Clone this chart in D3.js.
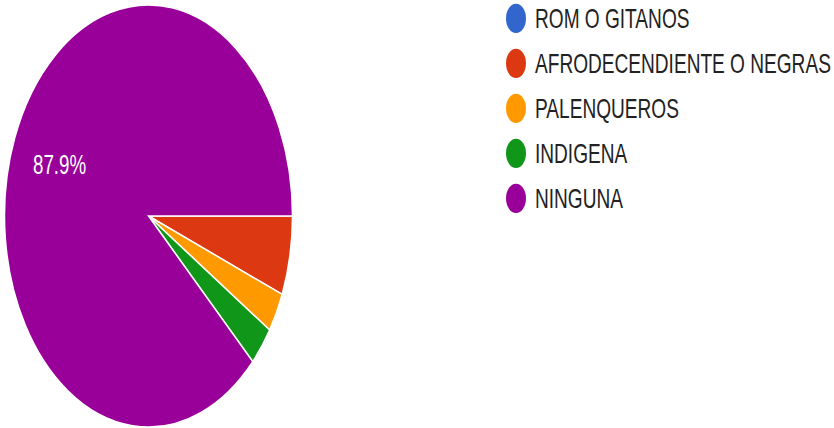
<!DOCTYPE html>
<html>
<head>
<meta charset="utf-8">
<script src="https://cdn.jsdelivr.net/npm/d3@7"></script>
<style>
  body { margin: 0; background: #fff; }
  text { font-family: "Liberation Sans", Arial, sans-serif; }
</style>
</head>
<body>
<div id="chart"></div>
<script>
// data: answers counted per group
var categories = ["ROM O GITANOS", "AFRODECENDIENTE O NEGRAS", "PALENQUEROS", "INDIGENA", "NINGUNA"];
var counts = [0, 4, 2, 2, 58];
var colors = ["#3366cc", "#dc3912", "#ff9900", "#109618", "#990099"];

var width = 834;
var height = 428;
var sy = 1.465; // picture is stretched vertically

var svg = d3.select("#chart").append("svg")
    .attr("width", width).attr("height", height);

var g = svg.append("g").attr("transform", "scale(1," + sy + ")");

var cx = 148.5, cy = 216 / sy, r = 144;
var total = d3.sum(counts);

var pie = d3.pie().sort(null)
    .startAngle(Math.PI / 2).endAngle(Math.PI / 2 + 2 * Math.PI);
var arcs = pie(counts);

var arc = d3.arc().innerRadius(0).outerRadius(r);
var labelArc = d3.arc().innerRadius(r * 0.665).outerRadius(r * 0.665);

var slices = g.append("g").attr("transform", "translate(" + cx + "," + cy + ")");

slices.selectAll("path").data(arcs).enter().append("path")
    .attr("d", arc)
    .attr("fill", function(d, i) { return colors[i]; })
    .attr("stroke", "#fff")
    .attr("stroke-width", 1.5)
    .attr("vector-effect", "non-scaling-stroke");

slices.selectAll("text").data(arcs.filter(function(d) { return d.value / total > 0.1; }))
    .enter().append("text")
    .attr("transform", function(d) { return "translate(" + labelArc.centroid(d) + ")"; })
    .attr("text-anchor", "middle")
    .attr("dy", "0.35em")
    .attr("fill", "#fff")
    .attr("font-size", 18.8)
    .text(function(d) { return d3.format(".1%")(d.value / total); });

// legend
var ly = d3.scaleBand().domain(categories).range([-2.8, 150.7]);

var legend = g.append("g").selectAll("g").data(categories).enter().append("g")
    .attr("transform", function(d) { return "translate(516," + (ly(d) + ly.bandwidth() / 2) + ")"; });

legend.append("circle")
    .attr("r", 10)
    .attr("fill", function(d, i) { return colors[i]; });

legend.append("text")
    .attr("x", 19)
    .attr("dy", "0.36em")
    .attr("fill", "#222")
    .attr("font-size", 19.1)
    .text(function(d) { return d; });
</script>
</body>
</html>
